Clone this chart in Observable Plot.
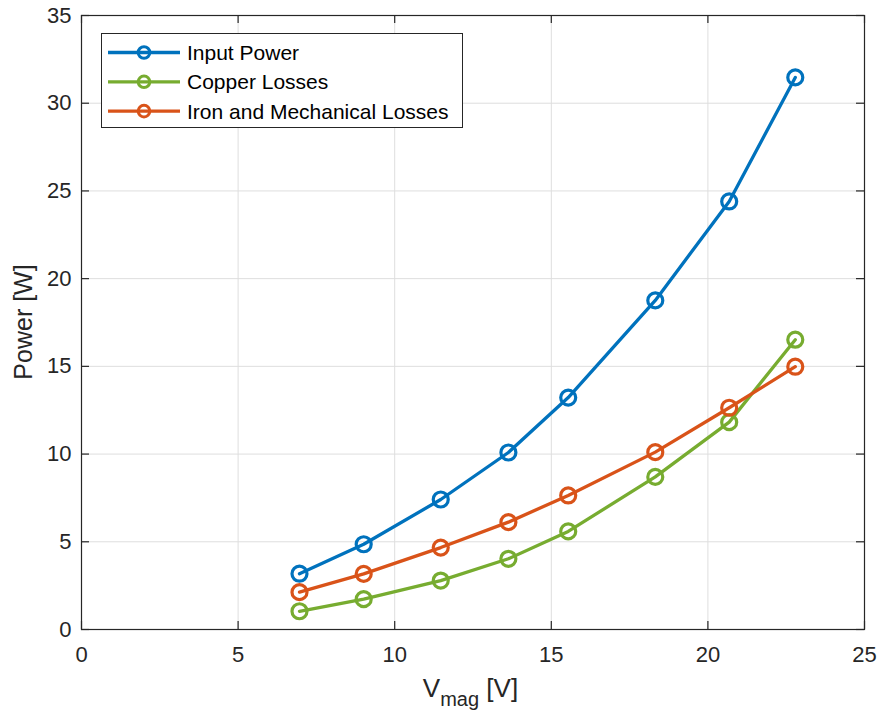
<!DOCTYPE html>
<html>
<head>
<meta charset="utf-8">
<script src="https://cdn.jsdelivr.net/npm/d3@7"></script>
<script src="https://cdn.jsdelivr.net/npm/@observablehq/plot@0.6"></script>
<style>
  html, body { margin: 0; padding: 0; background: #fff; }
  #chart { position: relative; width: 879px; height: 715px; }
</style>
</head>
<body>
<div id="chart"></div>
<script>
const vmag = [6.96, 9.01, 11.47, 13.63, 15.54, 18.32, 20.68, 22.79];
const inputPower = [3.18, 4.86, 7.41, 10.09, 13.22, 18.76, 24.40, 31.47];
const copperLosses = [1.04, 1.73, 2.79, 4.03, 5.59, 8.70, 11.82, 16.52];
const ironMechLosses = [2.13, 3.17, 4.67, 6.12, 7.64, 10.11, 12.64, 14.98];
const seriesNames = ["Input Power", "Copper Losses", "Iron and Mechanical Losses"];
const seriesColors = ["#0072BD", "#77AC30", "#D95319"];
const xTicks = [0, 5, 10, 15, 20, 25];
const yTicks = [0, 5, 10, 15, 20, 25, 30, 35];

const seriesValues = [inputPower, copperLosses, ironMechLosses];
const data = seriesNames.flatMap((name, i) =>
  vmag.map((v, j) => ({ series: name, x: v, y: seriesValues[i][j] }))
);

const W = 879, H = 715, mL = 81, mR = 15, mT = 15, mB = 86;
const iw = W - mL - mR, ih = H - mT - mB;
const tickLen = 8;
const axisColor = "#262626";
const gridColor = "#dedede";

const plot = Plot.plot({
  width: W,
  height: H,
  marginLeft: mL,
  marginRight: mR,
  marginTop: mT,
  marginBottom: mB,
  style: { fontFamily: "'Liberation Sans', Arial, sans-serif", fontSize: "22px", color: axisColor, background: "#fff" },
  x: { domain: [0, 25], ticks: xTicks, tickSize: 0, tickPadding: 17, label: null },
  y: { domain: [0, 35], ticks: yTicks, tickSize: 0, tickPadding: 10, label: null },
  color: { domain: seriesNames, range: seriesColors },
  marks: [
    Plot.ruleX(xTicks, { stroke: gridColor, strokeWidth: 1 }),
    Plot.ruleY(yTicks, { stroke: gridColor, strokeWidth: 1 }),
    Plot.ruleX(xTicks, { stroke: axisColor, strokeWidth: 1.2, insetTop: ih - tickLen }),
    Plot.ruleX(xTicks, { stroke: axisColor, strokeWidth: 1.2, insetBottom: ih - tickLen }),
    Plot.ruleY(yTicks, { stroke: axisColor, strokeWidth: 1.2, insetRight: iw - tickLen }),
    Plot.ruleY(yTicks, { stroke: axisColor, strokeWidth: 1.2, insetLeft: iw - tickLen }),
    Plot.frame({ stroke: axisColor, strokeWidth: 1.2 }),
    Plot.line(data, { x: "x", y: "y", z: "series", stroke: "series", strokeWidth: 3.3 }),
    Plot.dot(data, { x: "x", y: "y", stroke: "series", r: 7.5, strokeWidth: 3.2, fill: "none" })
  ]
});

document.getElementById("chart").appendChild(plot);

const svg = d3.select(plot);
const font = "'Liberation Sans', Arial, sans-serif";

// Y label
svg.append("text")
  .attr("transform", `translate(32, ${mT + ih / 2}) rotate(-90)`)
  .attr("text-anchor", "middle")
  .attr("fill", axisColor)
  .style("font-family", font)
  .style("font-size", "25px")
  .text("Power [W]");

// X label with subscript
const xl = svg.append("text")
  .attr("x", mL + iw / 2 - 2)
  .attr("y", 697)
  .attr("text-anchor", "middle")
  .attr("fill", axisColor)
  .style("font-family", font)
  .style("font-size", "26px");
xl.append("tspan").text("V");
xl.append("tspan").attr("dy", 9).style("font-size", "20px").text("mag");
xl.append("tspan").attr("dy", -9).text(" [V]");

// Legend
const lg = svg.append("g");
lg.append("rect")
  .attr("x", 101.5).attr("y", 33.5).attr("width", 361).attr("height", 94)
  .attr("fill", "#fff").attr("stroke", axisColor).attr("stroke-width", 1);
seriesNames.forEach((name, i) => {
  const cy = 52.5 + i * 29.3;
  lg.append("line").attr("x1", 108).attr("x2", 180).attr("y1", cy).attr("y2", cy)
    .attr("stroke", seriesColors[i]).attr("stroke-width", 3.3);
  lg.append("circle").attr("cx", 144).attr("cy", cy).attr("r", 5.8)
    .attr("fill", "none").attr("stroke", seriesColors[i]).attr("stroke-width", 3);
  lg.append("text").attr("x", 187).attr("y", cy).attr("dy", "0.36em")
    .attr("text-anchor", "start")
    .attr("fill", "#000")
    .style("font-family", font).style("font-size", "21px")
    .text(name);
});
</script>
</body>
</html>
